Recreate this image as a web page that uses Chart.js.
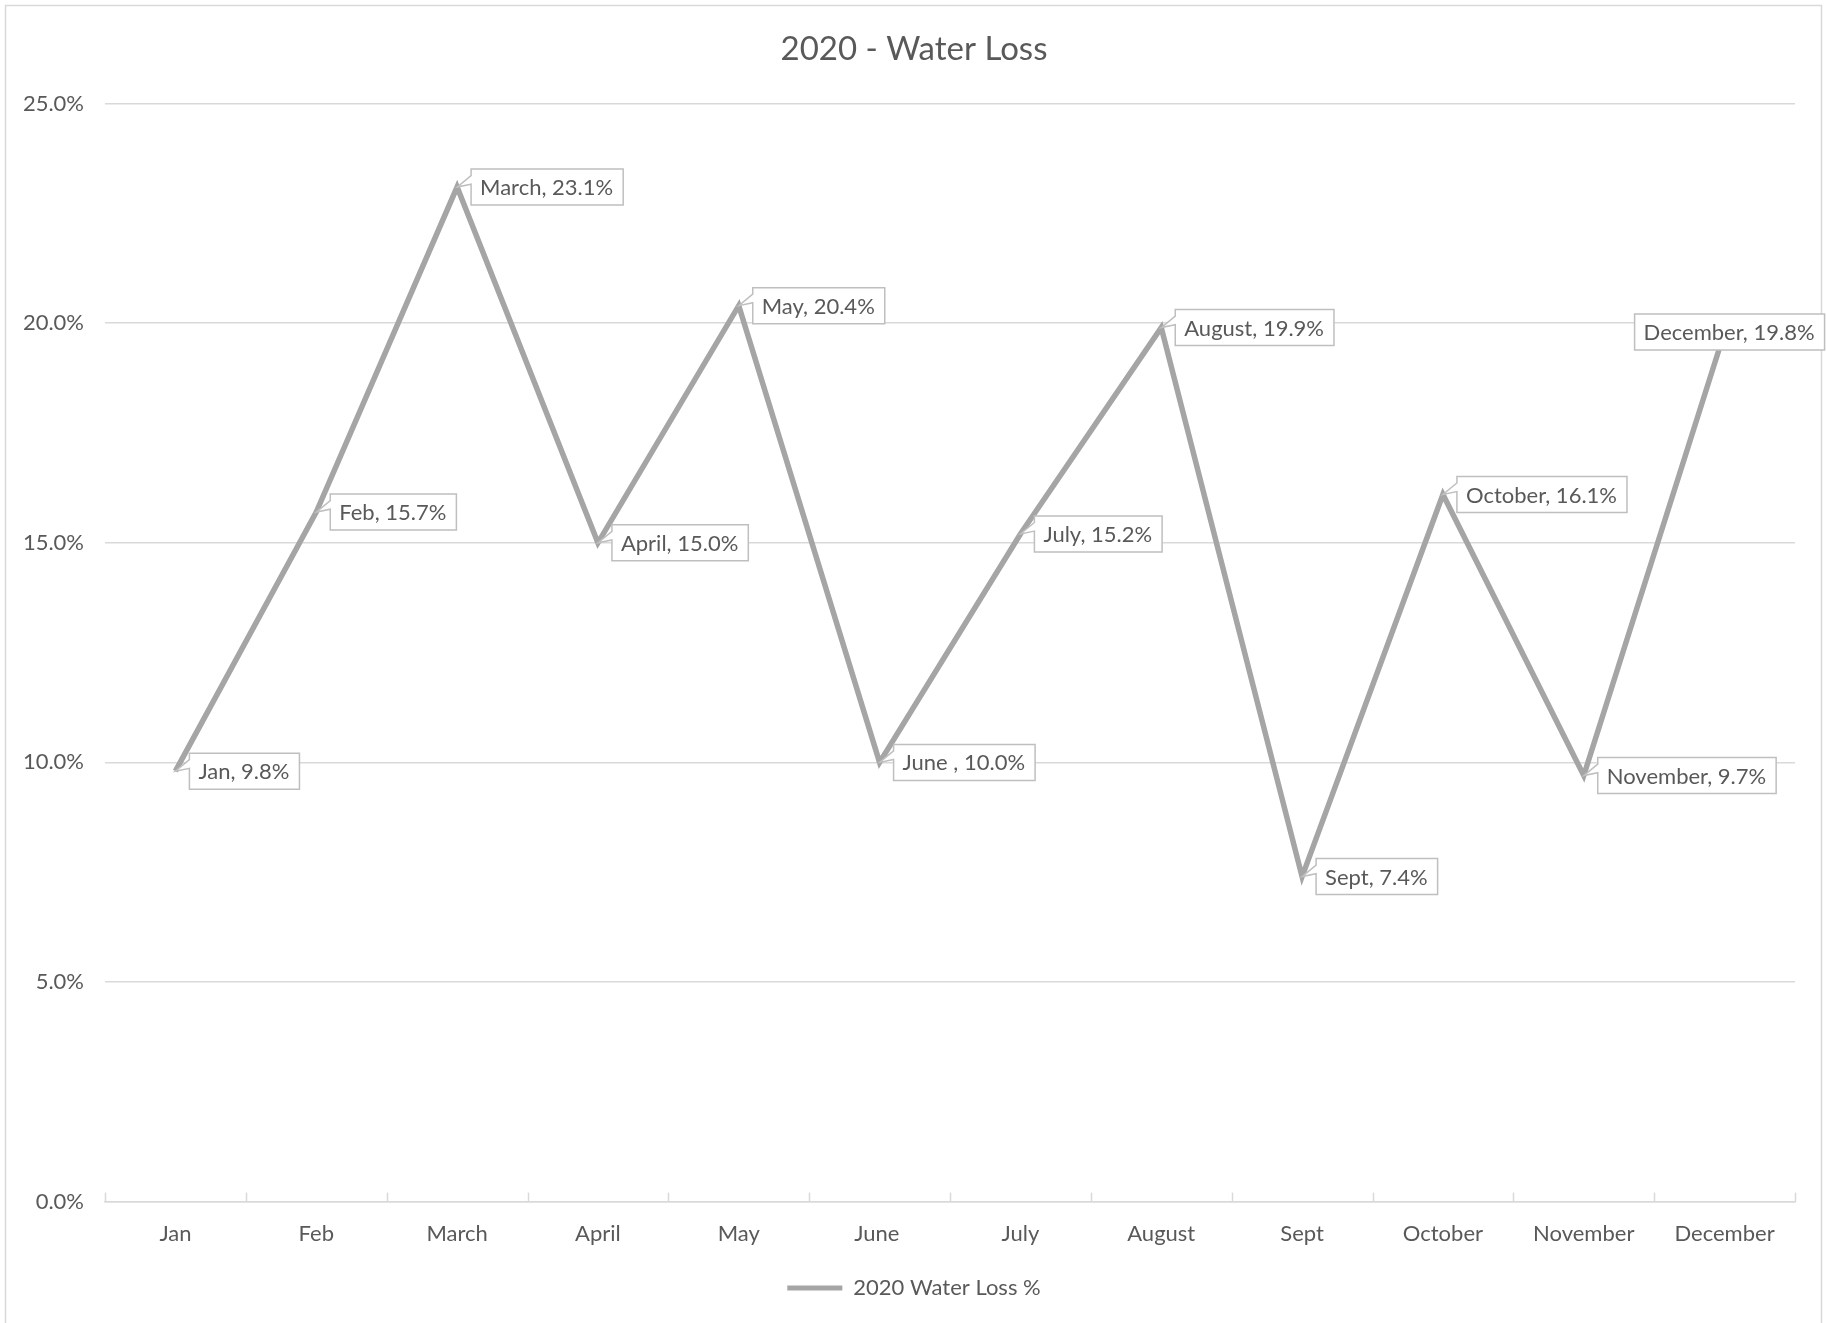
<!DOCTYPE html>
<html><head><meta charset="utf-8">
<script src="https://cdn.jsdelivr.net/npm/chart.js@4"></script>
<style>html,body{margin:0;padding:0;background:#fff;overflow:hidden}#wrap{width:1826px;height:1323px;position:relative}</style>
</head><body><div id="wrap"><canvas id="c"></canvas></div>
<script>
const categories = ['Jan','Feb','March','April','May','June ','July','August','Sept','October','November','December'];
const waterLoss = [9.8,15.7,23.1,15.0,20.4,10.0,15.2,19.9,7.4,16.1,9.7,19.8];
const yTicks = [0,5,10,15,20,25];
const seriesName = '2020 Water Loss %';
const chartTitle = '2020 - Water Loss';

const FONT = 'Lato';
const TXT = '#595959';
const LINE = '#a5a5a5';
const GRID = '#d9d9d9';

const frame = {
  id: 'frame',
  beforeDraw(chart) {
    const ctx = chart.ctx;
    ctx.save();
    ctx.fillStyle = '#fff';
    ctx.fillRect(0, 0, chart.width, chart.height);
    ctx.strokeStyle = GRID;
    ctx.lineWidth = 1.5;
    ctx.strokeRect(5.5, 5.5, chart.width - 10, chart.height + 20);
    ctx.restore();
  }
};

const xTickMarks = {
  id: 'xTickMarks',
  afterDraw(chart) {
    const xs = chart.scales.x, ctx = chart.ctx;
    const half = (xs.getPixelForValue(1) - xs.getPixelForValue(0)) / 2;
    const b = chart.chartArea.bottom;
    ctx.save();
    ctx.strokeStyle = GRID;
    ctx.lineWidth = 1.5;
    for (let i = 0; i <= categories.length; i++) {
      const x = Math.round(xs.getPixelForValue(0) - half + i * half * 2) + 0.5;
      ctx.beginPath();
      ctx.moveTo(x, b);
      ctx.lineTo(x, b - 9);
      ctx.stroke();
    }
    ctx.restore();
  }
};

const callouts = {
  id: 'callouts',
  afterDatasetsDraw(chart) {
    const ctx = chart.ctx;
    const meta = chart.getDatasetMeta(0);
    ctx.save();
    ctx.font = '22px ' + FONT;
    ctx.textBaseline = 'middle';
    meta.data.forEach((pt, i) => {
      const text = categories[i] + ', ' + waterLoss[i].toFixed(1) + '%';
      const tw = ctx.measureText(text).width;
      const bw = tw + 19, bh = 36;
      let bx = pt.x + 14, by = pt.y - bh / 2;
      let wedge = true;
      if (bx + bw > chart.width - 3) { bx = pt.x - bw / 2 + 5; wedge = false; }
      ctx.beginPath();
      ctx.moveTo(bx, by);
      ctx.lineTo(bx + bw, by);
      ctx.lineTo(bx + bw, by + bh);
      ctx.lineTo(bx, by + bh);
      if (wedge) {
        ctx.lineTo(bx, by + bh * 0.42);
        ctx.lineTo(pt.x, pt.y);
        ctx.lineTo(bx, by + bh * 0.18);
      }
      ctx.closePath();
      ctx.fillStyle = '#fff';
      ctx.fill();
      ctx.strokeStyle = '#bfbfbf';
      ctx.lineWidth = 1.5;
      ctx.stroke();
      ctx.fillStyle = TXT;
      ctx.textAlign = 'left';
      ctx.fillText(text, bx + 9, by + bh / 2 + 1);
    });
    ctx.restore();
  }
};

new Chart(document.getElementById('c'), {
  type: 'line',
  data: {
    labels: categories,
    datasets: [{
      label: seriesName,
      data: waterLoss,
      borderColor: LINE,
      backgroundColor: LINE,
      borderWidth: 5.5,
      pointRadius: 0,
      tension: 0,
      fill: false,
      yAxisID: 'y'
    }]
  },
  options: {
    responsive: true,
    maintainAspectRatio: false,
    devicePixelRatio: 1,
    animation: false,
    layout: { padding: { top: 14, left: 22, right: 20, bottom: 14 } },
    plugins: {
      title: {
        display: true,
        text: chartTitle,
        color: TXT,
        font: { family: FONT, size: 33, weight: 'normal' },
        padding: { top: 16, bottom: 34 }
      },
      legend: {
        display: true,
        position: 'bottom',
        labels: {
          color: TXT,
          font: { family: FONT, size: 22 },
          boxWidth: 55,
          boxHeight: 5,
          padding: 11,
          generateLabels(chart) {
            return Chart.defaults.plugins.legend.labels.generateLabels(chart).map(it => Object.assign(it, { lineWidth: 0, fillStyle: LINE }));
          }
        }
      },
      tooltip: { enabled: false }
    },
    scales: {
      x: {
        offset: true,
        grid: { display: false, drawTicks: false },
        border: { display: true, color: GRID, width: 1.5 },
        ticks: { color: TXT, font: { family: FONT, size: 22 }, padding: 19, maxRotation: 0, autoSkip: false }
      },
      y: {
        min: 0,
        max: 25,
        afterBuildTicks(scale) { scale.ticks = yTicks.map(v => ({ value: v })); },
        afterFit(scale) { scale.width = 83; },
        grid: { color: GRID, lineWidth: 1.5, drawTicks: false },
        border: { display: false },
        ticks: { color: TXT, font: { family: FONT, size: 22 }, padding: 21, callback: v => v.toFixed(1) + '%' }
      },
      yRight: {
        position: 'right',
        display: true,
        min: 0,
        max: 25,
        afterFit(scale) { scale.width = 11; },
        grid: { display: false, drawTicks: false },
        border: { display: false },
        ticks: { display: false }
      }
    }
  },
  plugins: [frame, xTickMarks, callouts]
});
</script>
</body></html>
